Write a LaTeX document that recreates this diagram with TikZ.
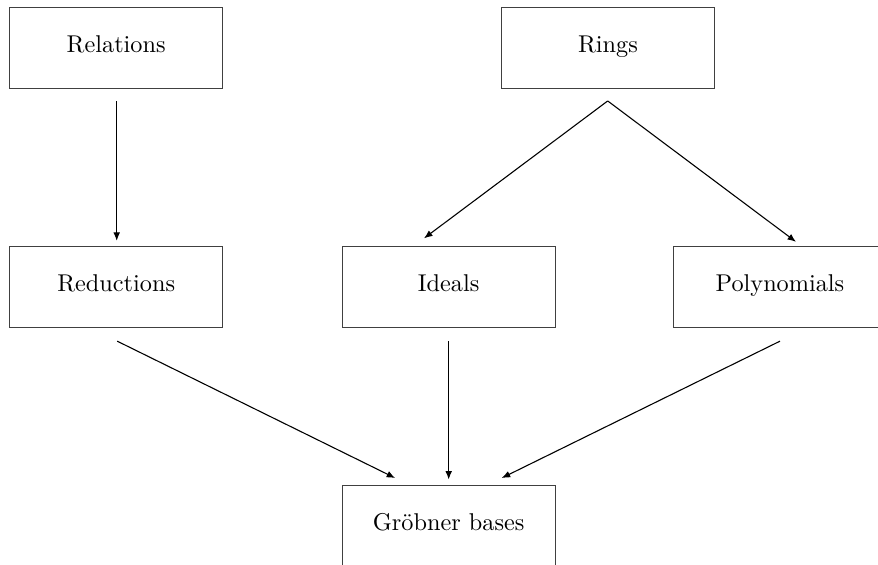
\documentclass[tikz,border=0pt]{standalone}
\usepackage{fontspec}
\usetikzlibrary{arrows.meta,calc}
\begin{document}
\begin{tikzpicture}[x=0.412pt,y=-0.412pt,
  box/.style={draw=black!75,line width=0.55pt,minimum width=213*0.412pt,minimum height=81*0.412pt,inner sep=0pt,text height=7pt,text depth=3.4pt},
  arr/.style={-{Latex[length=3.5pt,width=2.8pt]},line width=0.45pt}]
\useasboundingbox (0,0) rectangle (878,565);
\begin{scope}
\clip (0,0) rectangle (878,565);
\node[box] (rel) at (116.2,47.8) {Relations};
\node[box] (rings) at (608,47.8) {Rings};
\node[box] (red) at (116.2,287) {Reductions};
\node[box] (ideals) at (448.7,287) {Ideals};
\node[box] (poly) at (780,287) {Polynomials};
\node[box] (gb) at (448.7,526.2) {Gröbner bases};
\end{scope}
\draw[arr] ($(rel.south)+(0.5,12.3)$) -- ($(red.north)+(0.5,-5)$);
\draw[arr] ($(rings.south)+(-0.3,12)$) -- ($(ideals.north)+(-24.7,-7.5)$);
\draw[arr] ($(rings.south)+(-0.3,12)$) -- ($(poly.north)+(16,-4)$);
\draw[arr] ($(red.south)+(1,13)$) -- ($(gb.north)+(-53.5,-7)$);
\draw[arr] ($(ideals.south)+(0,13)$) -- ($(gb.north)+(0,-5.5)$);
\draw[arr] ($(poly.south)+(0,13)$) -- ($(gb.north)+(53,-7)$);
\end{tikzpicture}
\end{document}
